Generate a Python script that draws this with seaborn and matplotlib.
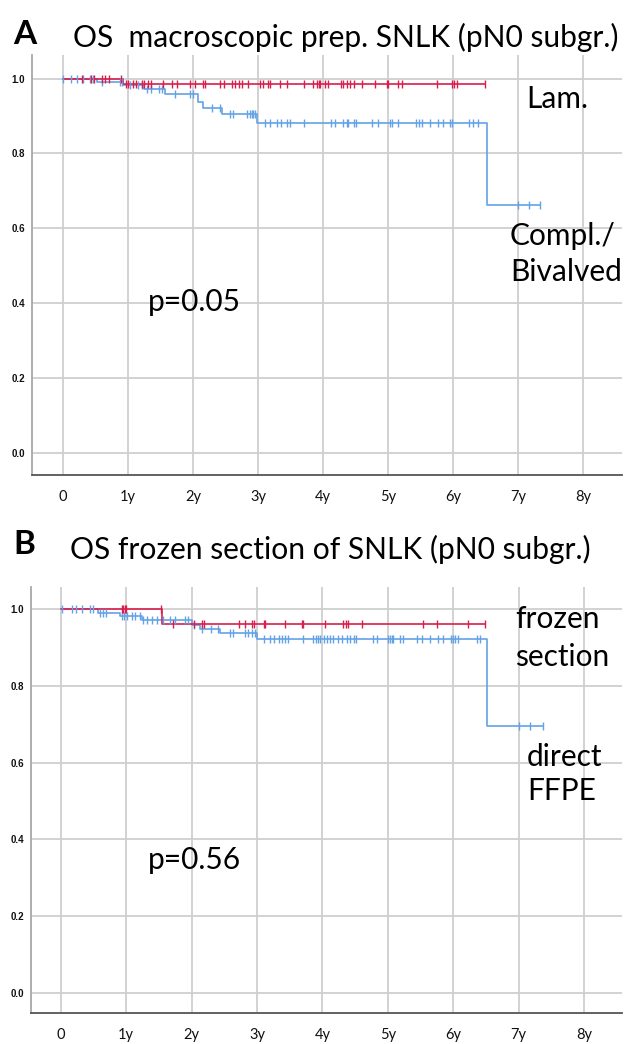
import numpy as np
import pandas as pd
import matplotlib
matplotlib.use("Agg")
import matplotlib.pyplot as plt
import seaborn as sns

# ---------------- data ----------------
x_ticks = [0, 1, 2, 3, 4, 5, 6, 7, 8]
x_tick_labels = ["0", "1y", "2y", "3y", "4y", "5y", "6y", "7y", "8y"]
y_ticks = [0.0, 0.2, 0.4, 0.6, 0.8, 1.0]
y_tick_labels = ["0.0", "0.2", "0.4", "0.6", "0.8", "1.0"]

# Panel A
a_red_times = [0.0, 0.93]
a_red_surv = [1.0, 0.985]
a_red_end = 6.49
a_red_cens = [0.29, 0.43, 0.48, 0.6, 0.65, 0.70, 0.89, 0.97, 1.0, 1.08, 1.13, 1.21, 1.25,
              1.31, 1.36, 1.54, 1.67, 1.75, 1.95, 2.03, 2.16, 2.18, 2.42, 2.47, 2.6, 2.65,
              2.7, 2.75, 2.85, 3.03, 3.08, 3.16, 3.18, 3.34, 3.44, 3.70, 3.85, 3.9, 3.94,
              3.96, 4.03, 4.08, 4.27, 4.31, 4.37, 4.42, 4.47, 4.6, 4.8, 4.99, 5.0, 5.16,
              5.22, 5.75, 5.98, 6.02, 6.06, 6.49]

a_blue_times = [0.0, 0.52, 0.93, 1.24, 1.57, 2.08, 2.15, 2.44, 2.98, 6.52]
a_blue_surv = [1.0, 0.992, 0.983, 0.972, 0.958, 0.938, 0.922, 0.905, 0.882, 0.661]
a_blue_end = 7.34
a_blue_cens = [0.0, 0.13, 0.21, 0.30, 0.42, 0.46, 0.6, 0.88, 0.91, 1.03, 1.16, 1.21, 1.29,
               1.36, 1.47, 1.52, 1.72, 1.95, 2.0, 2.29, 2.42, 2.57, 2.62, 2.83, 2.88, 2.9,
               2.93, 2.95, 3.11, 3.18, 3.29, 3.36, 3.44, 3.49, 3.70, 4.13, 4.18, 4.31,
               4.37, 4.39, 4.47, 4.51, 4.76, 4.84, 5.03, 5.06, 5.16, 5.43, 5.47, 5.52,
               5.65, 5.77, 5.85, 5.95, 5.98, 6.24, 6.31, 6.39, 7.0, 7.17, 7.34]

# Panel B
b_red_times = [0.0, 1.55]
b_red_surv = [1.0, 0.961]
b_red_end = 6.49
b_red_cens = [0.93, 0.95, 0.98, 1.0, 1.54, 1.72, 2.03, 2.16, 2.19, 2.72, 2.82, 2.92, 2.95,
              3.1, 3.12, 3.43, 3.69, 3.71, 4.04, 4.32, 4.36, 4.39, 4.6, 5.54, 5.75, 6.23,
              6.49]

b_blue_times = [0.0, 0.57, 0.91, 1.24, 2.0, 2.13, 2.44, 3.0, 6.51]
b_blue_surv = [1.0, 0.991, 0.983, 0.971, 0.959, 0.948, 0.937, 0.922, 0.695]
b_blue_end = 7.38
b_blue_cens = [0.02, 0.17, 0.23, 0.32, 0.45, 0.5, 0.6, 0.65, 0.69, 0.93, 0.96, 1.01, 1.09,
               1.14, 1.21, 1.26, 1.32, 1.39, 1.47, 1.57, 1.67, 1.75, 1.9, 1.95, 2.03,
               2.16, 2.29, 2.41, 2.59, 2.64, 2.82, 2.87, 2.92, 2.97, 3.1, 3.2, 3.26, 3.33,
               3.38, 3.43, 3.48, 3.71, 3.86, 3.91, 3.94, 3.96, 4.02, 4.07, 4.12, 4.17,
               4.24, 4.3, 4.37, 4.42, 4.48, 4.52, 4.78, 4.84, 5.01, 5.03, 5.06, 5.08,
               5.18, 5.24, 5.44, 5.52, 5.65, 5.77, 5.84, 5.96, 5.99, 6.03, 6.08, 6.36,
               6.41, 7.0, 7.18, 7.38]

# ---------------- style ----------------
sns.set_theme(style="white")
RED = "#D91E4C"
BLUE = "#64A2E8"
GRID = "#CFCFCF"
FONT = ["Lato", "DejaVu Sans"]
plt.rcParams["font.family"] = FONT

W, H = 624, 1044
fig = plt.figure(figsize=(W / 100, H / 100), dpi=100)


def fx(px):
    return px / W


def fy(py):
    return 1 - py / H


def km_frame(times, surv, end):
    t = list(times) + [end]
    s = list(surv) + [surv[-1]]
    return pd.DataFrame({"t": t, "s": s})


def cens_frame(times, surv, cens):
    idx = np.searchsorted(np.array(times), np.array(cens), side="right") - 1
    return pd.DataFrame({"t": cens, "s": np.array(surv)[idx]})


def panel(rect, xlim, ylim, series):
    ax = fig.add_axes(rect)
    ax.set_xlim(*xlim)
    ax.set_ylim(*ylim)
    for x in x_ticks:
        ax.axvline(x, color=GRID, lw=1.3, zorder=0)
    for y in y_ticks:
        ax.axhline(y, color=GRID, lw=1.3, zorder=0)
    for times, surv, end, cens, col in series:
        sns.lineplot(data=km_frame(times, surv, end), x="t", y="s", ax=ax,
                     drawstyle="steps-post", color=col, lw=1.2, estimator=None,
                     sort=False, zorder=3)
        sns.scatterplot(data=cens_frame(times, surv, cens), x="t", y="s", ax=ax,
                        marker="|", s=40, linewidth=1.0, color=col, zorder=4)
    ax.set_xticks(x_ticks)
    ax.set_xticklabels(x_tick_labels, fontsize=10.5, family=FONT)
    ax.set_yticks(y_ticks)
    ax.set_yticklabels(y_tick_labels, fontsize=7, fontweight="bold",
                       family=["Liberation Sans", "DejaVu Sans"])
    ax.tick_params(axis="x", length=0, pad=10.5, colors="#111111")
    ax.tick_params(axis="y", length=0, pad=5, colors="#111111")
    ax.set_xlabel("")
    ax.set_ylabel("")
    for s in ["top", "right"]:
        ax.spines[s].set_visible(False)
    ax.spines["left"].set_color("#A8A8A8")
    ax.spines["left"].set_linewidth(1.3)
    ax.spines["bottom"].set_color("#555555")
    ax.spines["bottom"].set_linewidth(1.3)
    ax.set_facecolor("white")
    return ax


axA = panel([fx(32), fy(475), fx(622) - fx(32), fy(55) - fy(475)],
            (-0.477, 8.6), (-0.059, 1.063),
            [(a_blue_times, a_blue_surv, a_blue_end, a_blue_cens, BLUE),
             (a_red_times, a_red_surv, a_red_end, a_red_cens, RED)])

axB = panel([fx(31), fy(1013), fx(622) - fx(31), fy(587) - fy(1013)],
            (-0.454, 8.58), (-0.053, 1.058),
            [(b_blue_times, b_blue_surv, b_blue_end, b_blue_cens, BLUE),
             (b_red_times, b_red_surv, b_red_end, b_red_cens, RED)])

# ---------------- texts ----------------
def txt(px, py, s, size, weight="normal", ha="left"):
    fig.text(fx(px), fy(py), s, fontsize=size, fontweight=weight, ha=ha,
             va="center", color="black", family=FONT)

txt(13, 35, "A", 24, weight="bold")
txt(73, 37, "OS  macroscopic prep. SNLK (pN0 subgr.)", 21.6)
txt(526, 99, "Lam.", 21.5)
txt(510, 236, "Compl./", 21.5)
txt(510, 272, "Bivalved", 21.5)
txt(148, 302, "p=0.05", 21.5)

txt(13, 545, "B", 24, weight="bold")
txt(70, 549, "OS frozen section of SNLK (pN0 subgr.)", 21.6)
txt(515, 619, "frozen", 21.5)
txt(515, 657, "section", 21.5)
txt(527, 757, "direct", 21.5)
txt(527, 791, "FFPE", 21.5)
txt(148, 860, "p=0.56", 21.5)

fig.savefig("out.png", dpi=100, facecolor="white")
